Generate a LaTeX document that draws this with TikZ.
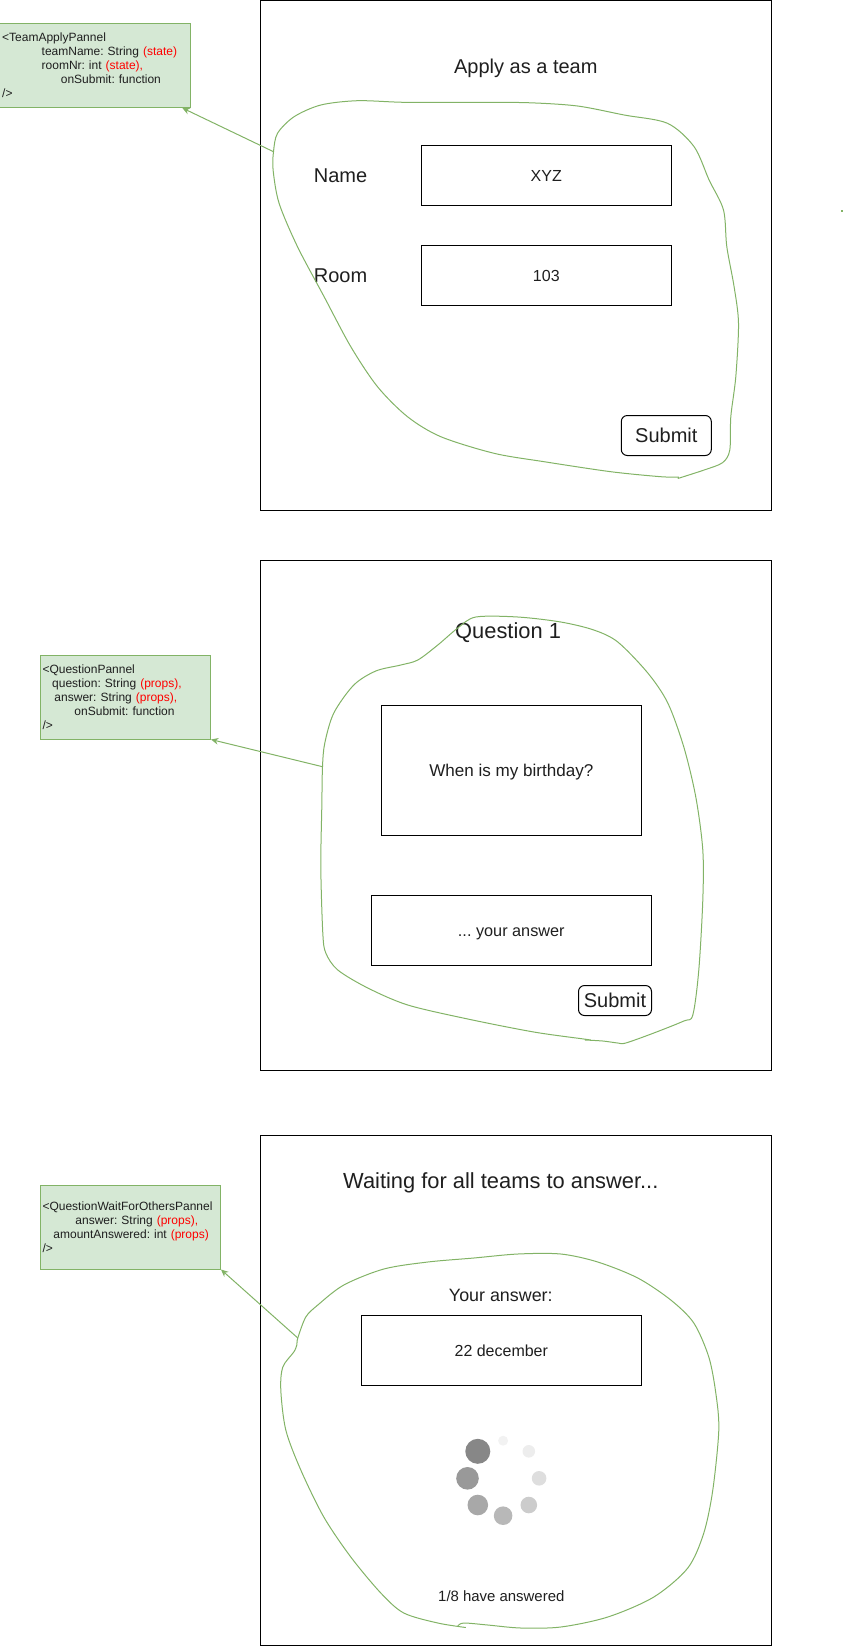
\documentclass[tikz,border=0pt]{standalone}
\usepackage{fontspec}
\setsansfont{Liberation Sans}
\usepackage{xcolor}
\usepackage{tikz}
\usetikzlibrary{arrows.meta}
\definecolor{boxfill}{HTML}{D5E8D4}
\definecolor{boxline}{HTML}{82B366}
\newcommand{\px}{0.75pt}
\newcommand{\st}[1]{\textcolor{red}{#1}}
\frenchspacing
\begin{document}
\begin{tikzpicture}[
   x=0.75pt,y=-0.75pt,
   font=\sffamily,
   every node/.append style={text=black!88},
   panel/.style={draw=black,line width=0.75pt,inner sep=0pt,minimum width=511*\px,minimum height=510*\px},
   field/.style={draw=black,line width=0.75pt,inner sep=0pt,text height=11.2pt,text depth=2.6pt,font=\sffamily\fontsize{12}{14}\selectfont},
   submit/.style={field,rounded corners=4.5pt,text height=10.8pt,text depth=0pt,font=\sffamily\fontsize{15}{18}\selectfont},
   big/.style={inner sep=0pt,font=\sffamily\fontsize{15}{18}\selectfont},
   title/.style={inner sep=0pt,font=\sffamily\fontsize{16.4}{19}\selectfont},
   callout/.style={draw=boxline,fill=boxfill,line width=0.75pt,inner sep=2*\px,minimum height=84*\px,
      align=left,font=\sffamily\fontsize{9}{10.5}\selectfont},
   blob/.style={boxline,line width=0.75pt,smooth,tension=0.5},
   to/.style={-{Stealth[length=5.5pt,width=5pt]},boxline,line width=0.75pt},
   spindot/.style={circle,inner sep=0pt}]
\useasboundingbox (0,0) rectangle (854,1646);
\node[panel] (teampanel) at (515.8,255.5) {};
\node[panel] (questionpanel) at (515.8,815.5) {};
\node[panel] (waitpanel) at (515.8,1390.5) {};

\begin{scope}[xshift=0.6pt]
\node[big] (applytitle) at (525,68) {Apply as a team};
\node[big] (namelabel) at (339.7,175.7) {Name};
\node[big] (roomlabel) at (339.7,275.7) {Room};
\node[field,minimum width=250*\px,minimum height=60*\px] (namefield) at (545.5,175.5) {XYZ};
\node[field,minimum width=250*\px,minimum height=60*\px] (roomfield) at (545.5,275.5) {103};
\node[submit,minimum width=90*\px,minimum height=40*\px] (teamsubmit) at (665.5,435.5) {Submit};

\node[title] (questiontitle) at (507.3,632.7) {Question 1};
\node[field,minimum width=260*\px,minimum height=130*\px,font=\sffamily\fontsize{12.8}{14}\selectfont] (questionfield) at (510.5,770.5) {When is my birthday?};
\node[field,minimum width=280*\px,minimum height=70*\px,font=\sffamily\fontsize{12.2}{14}\selectfont] (answerfield) at (510.5,930.5) {... your answer};
\node[submit,minimum width=73*\px,minimum height=30*\px] (questionsubmit) at (614.2,1000.5) {Submit};

\node[title] (waittitle) at (500,1183) {Waiting for all teams to answer...};
\node[inner sep=0pt,font=\sffamily\fontsize{13.4}{16}\selectfont] (yourlabel) at (500,1295) {Your answer:};
\node[field,minimum width=280*\px,minimum height=70*\px] (waitfield) at (500.5,1350.5) {22 december};
\node[inner sep=0pt,font=\sffamily\fontsize{11.2}{13}\selectfont] (countlabel) at (500.5,1596) {1/8 have answered};
\foreach \n/\cx/\cy/\rad/\tone in {1/477/1451.3/12.5/47,2/466.7/1478.3/11.3/40,3/477/1505/10.3/34,4/502.3/1515.7/9.3/28,
   5/528/1505/8.3/20,6/538.3/1478.3/7.3/13,7/528/1451.3/6.3/7,8/502.3/1440.7/5/5}
   \node[spindot,minimum size=2*\rad*\px,fill=black!\tone] (spin\n) at (\cx,\cy) {};

\draw[blob] plot coordinates {(678,477) (660,476.7) (610,471.7) (543.3,461.7) (493.3,453.3) (440,436.7) (406.7,416.7) (376.7,386.7)
   (350,346.7) (323.3,296.7) (296.7,246.7) (278.3,203.3) (272.3,170) (272.7,151.7) (276.7,133.3) (293.3,116.7) (320,105) (356.7,100.7)
   (403.3,102.3) (466.7,102.3) (526.7,102.7) (576.7,106) (623.3,115) (666.7,123.3) (693.3,146.7) (708.3,180) (722.7,210) (726,246.7)
   (733.3,286.7) (737.7,323.3) (735,376.7) (730,416.7) (729,450) (721.7,462.7) (703.3,470) (677,478.5)};
\draw[blob] plot coordinates {(590,1040) (583,1039) (533,1032) (467,1019) (407,1005) (367,988) (337,970) (325,953) (322,933) (320,867)
   (321,807) (321.7,766.7) (324,743) (333,713) (353,685) (375,671) (400,665) (417,660) (437,645) (457,628) (475,617) (517,617) (560,622)
   (593,630) (617,642) (647,673) (667,703) (683,747) (695,797) (702,850) (702,900) (698,970) (692,1015) (683,1021) (653,1033) (625,1043)
   (617,1043) (602,1041) (584,1040)};
\draw[blob] plot coordinates {(457,1626) (463,1623) (487,1625) (520,1628) (560,1627) (607,1617) (653,1597) (687,1568) (703,1533) (712,1490)
   (718,1430) (715,1393) (708,1357) (693,1323) (670,1300) (637,1278) (597,1262) (560,1254) (517,1254) (473,1258) (427,1262) (383,1269)
   (343,1285) (317,1305) (305,1317) (297,1338) (296,1345) (293,1352) (282,1367) (280,1390) (285,1430) (300,1470) (323,1517) (350,1557)
   (380,1593) (403,1613) (437,1623) (465,1627.5)};
\coordinate (teamblob) at (272.7,151.7);
\coordinate (questionblob) at (321.7,766.7);
\coordinate (waitblob) at (297,1338);
\end{scope}

\node[callout,text width=186*\px,minimum width=190.5*\px] (teambox) at (95.2,65.5) {{<}TeamApplyPannel\\
\hspace*{29.6pt}teamName: String \st{(state)}\\
\hspace*{29.6pt}roomNr: int \st{(state),}\\
\hspace*{44pt}onSubmit: function\\
/>};
\node[callout,text width=166*\px,minimum width=170*\px] (questionbox) at (125.5,697) {{<}QuestionPannel\\
\hspace*{7.3pt}question: String \st{(props),}\\
\hspace*{9pt}answer: String \st{(props),}\\
\hspace*{24pt}onSubmit: function\\
/>};
\node[callout,text width=176*\px,minimum width=180*\px] (waitbox) at (130.5,1227) {{<}QuestionWaitForOthersPannel\\
\hspace*{24.7pt}answer: String \st{(props),}\\
\hspace*{8.2pt}amountAnswered: int \st{(props)}\\
/>};

\draw[to] (teamblob) -- (teambox.-26);
\draw[to] (questionblob) -- (questionbox.south east);
\draw[to] (waitblob) -- (waitbox.south east);
\node[fill=boxline,inner sep=0pt,minimum size=2*\px] (speck) at (841.7,210.7) {};
\end{tikzpicture}
\end{document}
